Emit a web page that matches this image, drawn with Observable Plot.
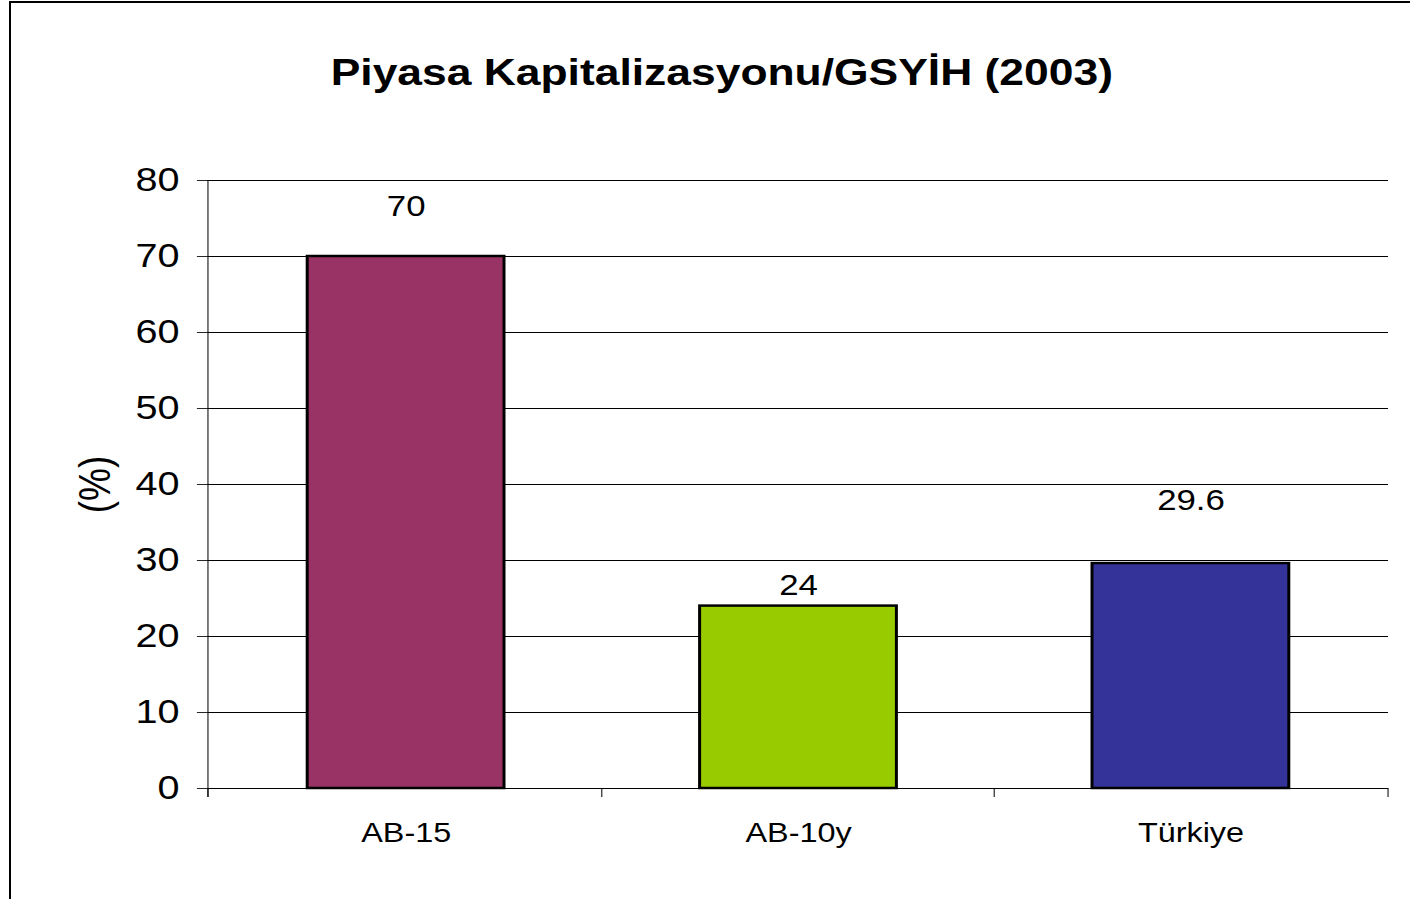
<!DOCTYPE html>
<html>
<head>
<meta charset="utf-8">
<script src="https://cdn.jsdelivr.net/npm/d3@7"></script>
<script src="https://cdn.jsdelivr.net/npm/@observablehq/plot@0.6"></script>
<style>
  html, body { margin: 0; padding: 0; width: 1410px; height: 899px; overflow: hidden; background: #fff; }
  #frame { position: absolute; left: 9px; top: 1px; width: 1500px; height: 1000px; border: 2px solid #000; }
  #wrap { position: absolute; left: 0; top: 0; width: 1175px; height: 899px; transform: scaleX(1.2); transform-origin: 0 0; }
  #title { position: absolute; left: 0; top: 53px; width: 1203px; text-align: center; font: bold 37px "Liberation Sans", Arial, sans-serif; line-height: 40px; color: #000; white-space: nowrap; }
  #chart { position: absolute; left: 0; top: 120px; }
</style>
</head>
<body>
<div id="frame"></div>
<div id="wrap">
  <div id="title">Piyasa Kapitalizasyonu/GSYİH (2003)</div>
  <div id="chart"></div>
</div>
<script>
const categories = ["AB-15", "AB-10y", "Türkiye"];
const values = [70, 24, 29.6];
const colors = ["#993366", "#99CC00", "#333399"];
const yTicks = [0, 10, 20, 30, 40, 50, 60, 70, 80];
const yLabel = "(%)";

const data = categories.map((c, i) => ({cat: c, value: values[i], color: colors[i]}));

function frameLines(...args) {
  const scales = args.find(a => a && typeof a.x === "function");
  const dims = args.find(a => a && a.width != null && a.marginLeft != null);
  const x = scales.x;
  const left = dims.marginLeft, right = dims.width - dims.marginRight;
  const top = dims.marginTop, bottom = dims.height - dims.marginBottom;
  const bw = typeof x.bandwidth === "function" ? x.bandwidth() : (right - left) / categories.length * 0.5;
  const bounds = [left];
  for (let i = 0; i < categories.length - 1; i++) {
    bounds.push((x(categories[i]) + bw + x(categories[i + 1])) / 2);
  }
  bounds.push(right);
  const g = d3.create("svg:g").attr("stroke", "black").attr("stroke-width", 0.85);
  g.append("line").attr("x1", left).attr("x2", left).attr("y1", top).attr("y2", bottom + 9);
  g.append("line").attr("x1", left).attr("x2", right).attr("y1", bottom + 0.5).attr("y2", bottom + 0.5).attr("stroke-width", 1);
  for (const b of bounds) {
    g.append("line").attr("x1", b).attr("x2", b).attr("y1", bottom).attr("y2", bottom + 9);
  }
  return g.node();
}

const chart = Plot.plot({
  width: 1175,
  height: 779,
  marginLeft: 173.3,
  marginRight: 18.3,
  marginTop: 60,
  marginBottom: 111,
  style: {fontFamily: "'Liberation Sans', Arial, sans-serif", fontSize: "30px", color: "#000", background: "transparent", overflow: "visible"},
  x: {domain: categories, paddingInner: 0.5, paddingOuter: 0.25, axis: null},
  y: {domain: [0, 80], axis: null},
  color: {type: "identity"},
  marks: [
    Plot.ruleY(yTicks, {y: d => d, stroke: "black", strokeWidth: 1}),
    Plot.barY(data, {x: "cat", y: "value", fill: "color", stroke: "black", strokeWidth: 2.5}),
    Plot.axisY({ticks: yTicks, tickSize: 9.2, tickPadding: 15, label: null, fontSize: 33, stroke: "black", strokeWidth: 0.85}),
    Plot.axisX({tickSize: 0, tickPadding: 34, label: null, fontSize: 27}),
    frameLines,
    Plot.text(data.filter((d, i) => i === 0), {x: "cat", y: "value", text: d => String(d.value), dy: -50, fontSize: 29}),
    Plot.text(data.filter((d, i) => i === 1), {x: "cat", y: "value", text: d => String(d.value), dy: -20, fontSize: 29}),
    Plot.text(data.filter((d, i) => i === 2), {x: "cat", y: "value", text: d => String(d.value), dy: -63, fontSize: 29}),
    Plot.text([yLabel], {frameAnchor: "left", textAnchor: "middle", dx: -94, rotate: -90, fontSize: 37})
  ]
});
document.getElementById("chart").appendChild(chart);
</script>
</body>
</html>
